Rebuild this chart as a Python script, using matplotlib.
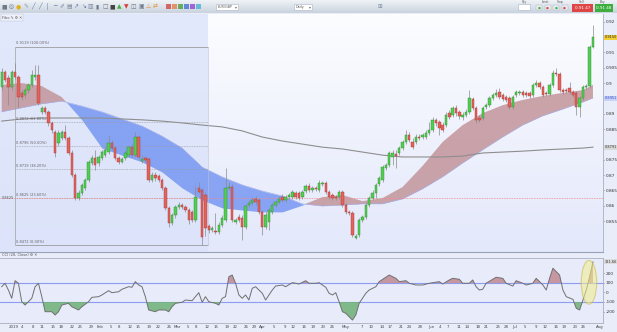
import numpy as np
import pandas as pd
import matplotlib
matplotlib.use('Agg')
import matplotlib.pyplot as plt
from matplotlib.patches import Rectangle, Ellipse
from matplotlib.colors import LinearSegmentedColormap

# EUR/GBP daily candles, oldest first
opens = [0.8987, 0.9036, 0.9016, 0.8987, 0.9036, 0.9020, 0.8968, 0.8961, 0.8977, 0.8994,
         0.9020, 0.9026, 0.8906, 0.8919, 0.8906, 0.8870, 0.8840, 0.8805, 0.8821, 0.8840,
         0.8821, 0.8772, 0.8700, 0.8625, 0.8642, 0.8658, 0.8684, 0.8739, 0.8756, 0.8739,
         0.8756, 0.8765, 0.8775, 0.8805, 0.8788, 0.8756, 0.8743, 0.8756, 0.8765, 0.8791,
         0.8765, 0.8824, 0.8746, 0.8756, 0.8752, 0.8684, 0.8700, 0.8697, 0.8684, 0.8658,
         0.8593, 0.8544, 0.8570, 0.8596, 0.8602, 0.8596, 0.8586, 0.8580, 0.8554, 0.8658,
         0.8651, 0.8635, 0.8534, 0.8521, 0.8518, 0.8514, 0.8537, 0.8554, 0.8658, 0.8661,
         0.8547, 0.8563, 0.8560, 0.8531, 0.8602, 0.8609, 0.8622, 0.8619, 0.8580, 0.8531,
         0.8547, 0.8580, 0.8602, 0.8612, 0.8628, 0.8619, 0.8628, 0.8628, 0.8642, 0.8642,
         0.8628, 0.8648, 0.8664, 0.8651, 0.8658, 0.8651, 0.8671, 0.8674, 0.8645, 0.8635,
         0.8628, 0.8628, 0.8645, 0.8602, 0.8580, 0.8576, 0.8495, 0.8505, 0.8554, 0.8563,
         0.8602, 0.8625, 0.8642, 0.8671, 0.8684, 0.8723, 0.8733, 0.8759, 0.8769, 0.8772,
         0.8788, 0.8808, 0.8831, 0.8808, 0.8808, 0.8824, 0.8824, 0.8824, 0.8837, 0.8847,
         0.8880, 0.8873, 0.8863, 0.8863, 0.8902, 0.8896, 0.8919, 0.8906, 0.8889, 0.8896,
         0.8906, 0.8948, 0.8919, 0.8886, 0.8886, 0.8922, 0.8928, 0.8951, 0.8961, 0.8971,
         0.8961, 0.8954, 0.8951, 0.8922, 0.8961, 0.8968, 0.8971, 0.8968, 0.8968, 0.8961,
         0.8994, 0.9000, 0.8987, 0.8968, 0.8964, 0.8994, 0.9033, 0.9029, 0.8977, 0.8977,
         0.8984, 0.8971, 0.8968, 0.8922, 0.8951, 0.8987, 0.8990, 0.9118]
highs = [0.9049, 0.9043, 0.9026, 0.9043, 0.9065, 0.9026, 0.8977, 0.8984, 0.9000, 0.9043,
         0.9059, 0.9059, 0.8925, 0.8925, 0.8912, 0.8876, 0.8847, 0.8847, 0.8847, 0.8863,
         0.8827, 0.8782, 0.8707, 0.8651, 0.8674, 0.8690, 0.8749, 0.8765, 0.8782, 0.8765,
         0.8782, 0.8791, 0.8831, 0.8814, 0.8795, 0.8762, 0.8759, 0.8782, 0.8798, 0.8801,
         0.8840, 0.8831, 0.8765, 0.8762, 0.8759, 0.8710, 0.8710, 0.8703, 0.8690, 0.8664,
         0.8599, 0.8576, 0.8602, 0.8612, 0.8609, 0.8602, 0.8593, 0.8586, 0.8664, 0.8677,
         0.8658, 0.8645, 0.8541, 0.8534, 0.8576, 0.8547, 0.8570, 0.8723, 0.8677, 0.8671,
         0.8560, 0.8573, 0.8570, 0.8606, 0.8619, 0.8628, 0.8632, 0.8625, 0.8586, 0.8580,
         0.8593, 0.8609, 0.8619, 0.8632, 0.8638, 0.8635, 0.8642, 0.8651, 0.8648, 0.8648,
         0.8651, 0.8671, 0.8674, 0.8664, 0.8664, 0.8684, 0.8681, 0.8681, 0.8651, 0.8642,
         0.8635, 0.8651, 0.8651, 0.8609, 0.8586, 0.8583, 0.8508, 0.8560, 0.8570, 0.8609,
         0.8632, 0.8651, 0.8674, 0.8697, 0.8733, 0.8739, 0.8778, 0.8782, 0.8782, 0.8795,
         0.8814, 0.8847, 0.8840, 0.8821, 0.8834, 0.8834, 0.8837, 0.8847, 0.8873, 0.8889,
         0.8886, 0.8880, 0.8873, 0.8906, 0.8912, 0.8925, 0.8928, 0.8912, 0.8906, 0.8915,
         0.8977, 0.8954, 0.8925, 0.8896, 0.8925, 0.8935, 0.8958, 0.8968, 0.8981, 0.8984,
         0.8968, 0.8961, 0.8958, 0.8961, 0.8977, 0.8977, 0.8977, 0.8974, 0.8974, 0.9000,
         0.9010, 0.9007, 0.8994, 0.8974, 0.9000, 0.9043, 0.9049, 0.9036, 0.8984, 0.8984,
         0.9003, 0.8977, 0.8974, 0.8958, 0.8994, 0.8997, 0.9124, 0.9189]
lows = [0.8977, 0.9003, 0.8928, 0.8977, 0.9013, 0.8922, 0.8945, 0.8951, 0.8968, 0.8987,
        0.9010, 0.8928, 0.8899, 0.8899, 0.8860, 0.8837, 0.8759, 0.8795, 0.8814, 0.8814,
        0.8765, 0.8694, 0.8619, 0.8619, 0.8635, 0.8651, 0.8677, 0.8733, 0.8717, 0.8730,
        0.8749, 0.8759, 0.8769, 0.8782, 0.8749, 0.8736, 0.8739, 0.8749, 0.8759, 0.8759,
        0.8759, 0.8752, 0.8739, 0.8743, 0.8677, 0.8677, 0.8681, 0.8677, 0.8651, 0.8586,
        0.8531, 0.8537, 0.8560, 0.8589, 0.8589, 0.8580, 0.8541, 0.8547, 0.8547, 0.8642,
        0.8472, 0.8501, 0.8511, 0.8514, 0.8508, 0.8508, 0.8531, 0.8547, 0.8651, 0.8547,
        0.8541, 0.8547, 0.8488, 0.8524, 0.8596, 0.8602, 0.8602, 0.8573, 0.8505, 0.8524,
        0.8521, 0.8573, 0.8596, 0.8606, 0.8612, 0.8612, 0.8622, 0.8622, 0.8622, 0.8619,
        0.8622, 0.8642, 0.8645, 0.8645, 0.8648, 0.8645, 0.8664, 0.8638, 0.8622, 0.8619,
        0.8619, 0.8622, 0.8596, 0.8573, 0.8570, 0.8498, 0.8492, 0.8498, 0.8547, 0.8557,
        0.8596, 0.8619, 0.8625, 0.8664, 0.8677, 0.8717, 0.8726, 0.8733, 0.8723, 0.8765,
        0.8782, 0.8801, 0.8808, 0.8785, 0.8801, 0.8814, 0.8818, 0.8818, 0.8831, 0.8840,
        0.8860, 0.8831, 0.8840, 0.8857, 0.8883, 0.8889, 0.8893, 0.8883, 0.8880, 0.8889,
        0.8899, 0.8912, 0.8870, 0.8873, 0.8880, 0.8915, 0.8922, 0.8945, 0.8954, 0.8948,
        0.8941, 0.8938, 0.8915, 0.8915, 0.8954, 0.8961, 0.8954, 0.8954, 0.8951, 0.8954,
        0.8987, 0.8981, 0.8954, 0.8958, 0.8958, 0.8987, 0.9023, 0.8971, 0.8964, 0.8968,
        0.8964, 0.8954, 0.8896, 0.8889, 0.8945, 0.8981, 0.8984, 0.9114]
closes = [0.9036, 0.9010, 0.8987, 0.9036, 0.9020, 0.8954, 0.8954, 0.8977, 0.8994, 0.9026,
          0.9026, 0.8935, 0.8919, 0.8906, 0.8870, 0.8847, 0.8772, 0.8837, 0.8840, 0.8821,
          0.8772, 0.8700, 0.8625, 0.8642, 0.8668, 0.8684, 0.8743, 0.8756, 0.8733, 0.8759,
          0.8775, 0.8782, 0.8805, 0.8788, 0.8756, 0.8743, 0.8752, 0.8772, 0.8791, 0.8765,
          0.8824, 0.8759, 0.8752, 0.8749, 0.8684, 0.8700, 0.8690, 0.8684, 0.8658, 0.8593,
          0.8544, 0.8570, 0.8596, 0.8602, 0.8596, 0.8586, 0.8554, 0.8554, 0.8628, 0.8645,
          0.8498, 0.8527, 0.8521, 0.8527, 0.8514, 0.8537, 0.8560, 0.8658, 0.8661, 0.8554,
          0.8554, 0.8554, 0.8531, 0.8599, 0.8609, 0.8619, 0.8612, 0.8580, 0.8531, 0.8570,
          0.8586, 0.8602, 0.8612, 0.8622, 0.8619, 0.8628, 0.8635, 0.8645, 0.8628, 0.8625,
          0.8645, 0.8664, 0.8651, 0.8658, 0.8655, 0.8674, 0.8674, 0.8645, 0.8628, 0.8625,
          0.8625, 0.8645, 0.8602, 0.8580, 0.8576, 0.8505, 0.8501, 0.8554, 0.8563, 0.8602,
          0.8625, 0.8642, 0.8668, 0.8690, 0.8726, 0.8733, 0.8772, 0.8772, 0.8762, 0.8788,
          0.8808, 0.8831, 0.8814, 0.8791, 0.8824, 0.8821, 0.8831, 0.8837, 0.8847, 0.8880,
          0.8870, 0.8853, 0.8847, 0.8896, 0.8889, 0.8919, 0.8902, 0.8893, 0.8896, 0.8906,
          0.8951, 0.8919, 0.8880, 0.8880, 0.8919, 0.8928, 0.8951, 0.8961, 0.8968, 0.8954,
          0.8948, 0.8945, 0.8922, 0.8954, 0.8971, 0.8971, 0.8961, 0.8961, 0.8958, 0.8994,
          0.9000, 0.8987, 0.8961, 0.8964, 0.8994, 0.9033, 0.9029, 0.8977, 0.8971, 0.8974,
          0.8971, 0.8961, 0.8922, 0.8951, 0.8987, 0.8990, 0.9118, 0.9150]

# moving averages, read every 6th candle
ma_idx = [0, 6, 12, 18, 24, 30, 36, 42, 48, 54, 60, 66, 72, 78, 84, 90,
          96, 102, 108, 114, 120, 126, 132, 138, 144, 150, 156, 162, 168, 174, 177]
ema_fast = [0.8994, 0.9000, 0.8990, 0.8954, 0.8880, 0.8788, 0.8765, 0.8743, 0.8710, 0.8658,
            0.8619, 0.8593, 0.8586, 0.8580, 0.8580, 0.8602, 0.8628, 0.8635, 0.8615, 0.8625,
            0.8661, 0.8730, 0.8808, 0.8863, 0.8902, 0.8928, 0.8945, 0.8958, 0.8968, 0.8977, 0.8994]
ema_slow = [0.8906, 0.8919, 0.8932, 0.8941, 0.8925, 0.8906, 0.8883, 0.8860, 0.8827, 0.8788,
            0.8726, 0.8694, 0.8668, 0.8648, 0.8632, 0.8606, 0.8599, 0.8602, 0.8606, 0.8606,
            0.8622, 0.8655, 0.8694, 0.8739, 0.8782, 0.8824, 0.8863, 0.8893, 0.8915, 0.8938, 0.8951]
sma_200 = [0.8876, 0.8883, 0.8886, 0.8886, 0.8886, 0.8886, 0.8883, 0.8880, 0.8876, 0.8870,
           0.8863, 0.8857, 0.8844, 0.8824, 0.8811, 0.8801, 0.8791, 0.8785, 0.8775, 0.8765,
           0.8759, 0.8759, 0.8759, 0.8762, 0.8772, 0.8775, 0.8778, 0.8782, 0.8785, 0.8788, 0.8791]

# fibonacci retracement drawn from the January high to the March low
fib_high = 0.9119
fib_low = 0.8472
fib_pcts = [0.0, 23.6, 38.2, 50.0, 61.8, 100.0]
fib_from, fib_to = 4, 61.8
line_level = 0.8625

# CCI(20) sub panel
cci_idx = [0, 1, 2, 3, 4, 5, 6, 7, 8, 9, 10, 11, 12, 13, 15, 16, 17, 18, 20, 21, 23, 24, 26, 27,
           29, 30, 32, 33, 35, 36, 38, 39, 40, 41, 42, 43, 44, 46, 47, 49, 50, 51, 52, 54, 55,
           57, 58, 59, 60, 61, 62, 64, 65, 66, 67, 68, 69, 70, 71, 72, 73, 74, 75, 76, 78, 79,
           81, 82, 84, 85, 87, 88, 89, 91, 92, 94, 95, 97, 98, 99, 100, 101, 102, 103, 105, 106,
           107, 109, 110, 112, 113, 115, 116, 118, 119, 121, 122, 124, 126, 128, 129, 131, 132,
           134, 135, 137, 138, 140, 141, 142, 143, 144, 145, 147, 148, 150, 151, 153, 154, 156,
           157, 159, 160, 162, 163, 164, 165, 167, 168, 169, 171, 172, 173, 174, 175, 176, 177]
cci = [61, 97, 26, -61, 124, 97, -97, -132, -97, -61, 61, 97, -44, -202, -202, -237, -202, -132,
       -114, -150, -184, -150, -97, -51, -44, -26, 19, -2, 8, 34, 61, 55, 114, 79, 61, -44, -184,
       -202, -184, -184, -202, -150, -114, -103, -79, -86, -44, -2, -103, -44, -97, -114, -132,
       -61, -44, 166, 184, 97, -26, -61, -26, -79, 44, 61, -8, -79, 26, 68, 79, 61, 103, 97, 89,
       124, 97, 97, 103, 55, -8, -26, -2, -97, -202, -219, -290, -237, -114, -8, 26, 61, 114, 160,
       184, 149, 114, 124, 97, 79, 79, 97, 103, 114, 89, 132, 149, 139, 97, 97, 132, 61, 26, 34,
       97, 139, 160, 149, 97, 68, 124, 97, 79, 97, 149, 79, 26, 149, 255, 184, 26, -44, -72, -166,
       -184, -79, 26, 166, 321.66]

o = np.array(opens); h = np.array(highs); l = np.array(lows); c = np.array(closes)
n = len(c)
idx = np.arange(n)
fast = np.array(ema_fast); slow = np.array(ema_slow)

W, H = 617, 332
fig = plt.figure(figsize=(W / 100, H / 100), dpi=100)
fig.patch.set_facecolor('#e9edf9')


def fx(px):
    return px / W


def fy(py):
    return 1 - py / H


# ---- toolbar strip
tb = fig.add_axes([0, fy(13), 1, 13 / H])
tb.set_xlim(0, W)
tb.set_ylim(13, 0)
tb.axis('off')
tb.imshow(np.linspace(0, 1, 40).reshape(-1, 1), extent=[0, W, 13, 0], aspect='auto',
          cmap=LinearSegmentedColormap.from_list('tb', ['#f0f3f7', '#c9d3de']))
icons = ['■', '◎', '●', '✎', '╱', '╱', '│', '─', '✐', '▤', '↗', '↘', '▥', '▮',
         '□', '■', '▲', '▼', '◫', '▣', '⚠', '⇄']
icon_cols = ['#6d7a8a', '#6d7a8a', '#e0b020', '#8a96a8', '#5b78b0', '#5b78b0', '#5b78b0',
             '#5b78b0', '#7a8aa0', '#7a8aa0', '#5b78b0', '#5b78b0', '#7a8aa0', '#6d7a8a',
             '#6d7a8a', '#444444', '#3fae3f', '#d94040', '#6d7a8a', '#6d7a8a', '#e09030',
             '#e09030']
for i, (g, col) in enumerate(zip(icons, icon_cols)):
    tb.text(4 + i * 7.2, 6.5, g, fontsize=4.2, color=col, ha='center', va='center')
for i, col in enumerate(['#d23c3c', '#e07a3c', '#3c9a3c', '#3c6ad2', '#8a3cd2', '#3cb0d2']):
    tb.add_patch(Rectangle((166 + i * 6, 4), 5, 5, color=col, alpha=0.75, lw=0))
for x0, w, lab in [(216, 22, 'EUR/GBP'), (294, 18, 'Daily')]:
    tb.add_patch(Rectangle((x0, 3.5), w, 6, facecolor='white', edgecolor='#a9b4c2', lw=0.4))
    tb.text(x0 + 1.2, 6.6, lab, fontsize=2.4, color='#555555', va='center')
    tb.text(x0 + w - 1.8, 6.6, '▾', fontsize=2.8, color='#666666', va='center', ha='center')
tb.text(380, 6.5, '⊞', fontsize=4, color='#7a8aa0', ha='center', va='center')
tb.add_patch(Rectangle((518, 4), 12, 6, facecolor='white', edgecolor='#a9b4c2', lw=0.4))
for xl, lab in [(524, 'Qty'), (545, 'Limit'), (560, 'Stop'), (582, 'Sell'), (603, 'Buy')]:
    tb.text(xl, 2.2, lab, fontsize=2.2, color='#555555', ha='center', va='center')
for i, col in enumerate(['#3fae3f', '#d94040', '#3fae3f', '#d94040']):
    tb.add_patch(Rectangle((536 + i * 8.5, 5), 6, 5, facecolor='#e8ecf0', edgecolor='#a9b4c2', lw=0.3))
    tb.text(539 + i * 8.5, 7.5, '●', fontsize=2.4, color=col, ha='center', va='center')
tb.add_patch(Rectangle((572, 4), 21, 8, color='#e04545', lw=0))
tb.text(582.5, 8, '0.91 47', fontsize=3.0, color='white', ha='center', va='center')
tb.add_patch(Rectangle((595, 4), 18, 8, color='#3dae3d', lw=0))
tb.text(604, 8, '0.91 48', fontsize=3.0, color='white', ha='center', va='center')

# ---- main price panel
ax = fig.add_axes([0, fy(252), fx(603), (252 - 14) / H])
xlo, xhi = -0.51, 180.0
ylo, yhi = 0.84492, 0.92251
ax.set_xlim(xlo, xhi)
ax.set_ylim(ylo, yhi)
ax.imshow(np.linspace(0, 1, 100).reshape(-1, 1), extent=[xlo, xhi, ylo, yhi], origin='lower',
          aspect='auto', cmap=LinearSegmentedColormap.from_list('bg', ['#e3e8fb', '#fcfdff']),
          zorder=0)
ax.axvspan(xlo, fib_to, color='#dae2fa', alpha=0.75, lw=0, zorder=0.5)

# moving average ribbon and 200 day line
ax.fill_between(ma_idx, fast, slow, where=fast >= slow, interpolate=True,
                color='#c3959b', alpha=0.85, lw=0, zorder=1)
ax.fill_between(ma_idx, fast, slow, where=fast < slow, interpolate=True,
                color='#7797f2', alpha=0.85, lw=0, zorder=1)
ax.plot(ma_idx, slow, color='#9aa6e6', lw=0.4, zorder=1.2)
ax.plot(ma_idx, sma_200, color='#8e8e8e', lw=0.8, zorder=1.5)

# fibonacci levels
rng = fib_high - fib_low
for p in fib_pcts:
    lv = fib_low + rng * p / 100
    solid = p in (0.0, 100.0)
    ax.hlines(lv, fib_from, fib_to, color='#9c9c9c', lw=0.6 if solid else 0.5,
              linestyles='-' if solid else (0, (1.2, 1.2)), zorder=1.6)
    ax.text(fib_from + 0.3, lv + 0.0004, f'{lv:.4f} ({p:.2f}%)', fontsize=2.6,
            color='#666666', va='bottom', ha='left', zorder=5)
ax.vlines(fib_from, fib_low, fib_high, color='#a0a0a0', lw=0.5, zorder=1.6)
ax.vlines(fib_to, fib_low, fib_high, color='#b8c0d8', lw=0.4, zorder=1.6)
ax.axhline(line_level, color='#f08a8a', lw=0.6, ls=(0, (1, 1)), zorder=1.7)
ax.text(0.1, line_level, f'{line_level:.4f}', fontsize=2.5, color='#555555',
        va='center', ha='left', zorder=5)

# candles
up = c >= o
ax.vlines(idx, l, h, color='#8a8a8a', lw=0.5, zorder=3)
body = np.maximum(np.abs(c - o), 0.00015)
ax.bar(idx, body, bottom=np.minimum(o, c), width=0.72,
       color=np.where(up, '#52cf52', '#e4625c'),
       edgecolor=np.where(up, '#2f8a2f', '#a83a35'), lw=0.3, zorder=4)

# right axis; levels under a value tag are hidden by the tag
tags = [(c[-1], '#f0cf3a', '#222222'), (slow[-1], '#c9d3f8', '#2a4bc8'),
        (sma_200[-1], '#d9d9d9', '#333333')]
ticks = [t for t in np.arange(0.855, 0.9201, 0.005)
         if min(abs(t - tg[0]) for tg in tags) > 0.0015]
ax.yaxis.tick_right()
ax.set_yticks(ticks)
ax.set_yticklabels([f'{t:.3f}'.rstrip('0') for t in ticks])
ax.tick_params(axis='y', labelsize=3.1, colors='#333333', length=1, width=0.4, pad=0.8)
ax.set_xticks([])
for s in ['top', 'left']:
    ax.spines[s].set_visible(False)
ax.spines['right'].set_color('#a8b0c0')
ax.spines['right'].set_linewidth(0.6)
ax.spines['bottom'].set_color('#9aa2b5')
ax.spines['bottom'].set_linewidth(0.8)

for val, fc, tc in tags:
    ax.annotate(f'{val:.4f}', xy=(1.003, val), xycoords=('axes fraction', 'data'),
                fontsize=2.5, color=tc, va='center', ha='left', annotation_clip=False,
                bbox=dict(boxstyle='square,pad=0.15', fc=fc, ec='none'), zorder=10)

fig.text(fx(2), fy(17.5), 'Fibo ✎ ⚙ ✕', fontsize=2.6, color='#555555', va='center',
         bbox=dict(boxstyle='square,pad=0.3', fc='#eef1fa', ec='#b8c0d0', lw=0.3))

# ---- CCI panel
ax2 = fig.add_axes([0, fy(323), fx(603), (323 - 258) / H])
ax2.set_facecolor('#e7ebfa')
ax2.set_xlim(xlo, xhi)
ax2.set_ylim(-321, 363)
cv = np.array(cci, dtype=float)
ax2.axhline(100, color='#8d9cf0', lw=0.8, zorder=1)
ax2.axhline(-100, color='#8d9cf0', lw=0.8, zorder=1)
ax2.fill_between(cci_idx, cv, 100, where=cv > 100, interpolate=True,
                 color='#c08890', alpha=0.85, lw=0, zorder=2)
ax2.fill_between(cci_idx, cv, -100, where=cv < -100, interpolate=True,
                 color='#74b47e', alpha=0.9, lw=0, zorder=2)
ax2.plot(cci_idx, cv, color='#707070', lw=0.7, zorder=3)
ax2.add_patch(Ellipse((cci_idx[-1] - 1.2, 107), 4.6, 460, facecolor='#f2ee8a', alpha=0.55,
                      edgecolor='#c9b840', lw=0.8, zorder=4))
ax2.yaxis.tick_right()
ax2.set_yticks([200, 100, 0, -100, -200])
ax2.set_yticklabels(['200', '100', '0', '-100', '-200'])
ax2.tick_params(axis='y', labelsize=3.1, colors='#333333', length=1, width=0.4, pad=0.8)
ax2.annotate(f'{cv[-1]:.2f}', xy=(1.003, cv[-1]), xycoords=('axes fraction', 'data'),
             fontsize=2.5, color='#333333', va='center', ha='left', annotation_clip=False,
             bbox=dict(boxstyle='square,pad=0.15', fc='#dcdcdc', ec='none'))
ax2.spines['left'].set_visible(False)
for s in ['top', 'bottom', 'right']:
    ax2.spines[s].set_color('#a8b0c0')
    ax2.spines[s].set_linewidth(0.6)

# date labels: Tuesdays and Fridays, month names on the 1st
days = pd.date_range('2019-01-01', '2019-08-01')
tick_pos, tick_lab = [], []
for d in days:
    near_edge = d.day <= 3 or (d + pd.Timedelta(days=2)).month != d.month
    if d.day == 1:
        lab = '2019' if d.month == 1 else d.strftime('%b')
    elif d.weekday() in (1, 4) and not near_edge:
        lab = str(d.day)
    else:
        continue
    tick_pos.append(3.683 + 0.8275 * (d - days[0]).days)
    tick_lab.append(lab)
ax2.set_xticks(tick_pos)
ax2.set_xticklabels(tick_lab)
ax2.tick_params(axis='x', labelsize=2.8, colors='#444444', length=0, pad=1.2)

fig.text(fx(2), fy(255), 'CCI (20, Close) ⚙ ✕', fontsize=2.6, color='#555555', va='center')

fig.savefig('out.png', dpi=100, facecolor=fig.get_facecolor())
